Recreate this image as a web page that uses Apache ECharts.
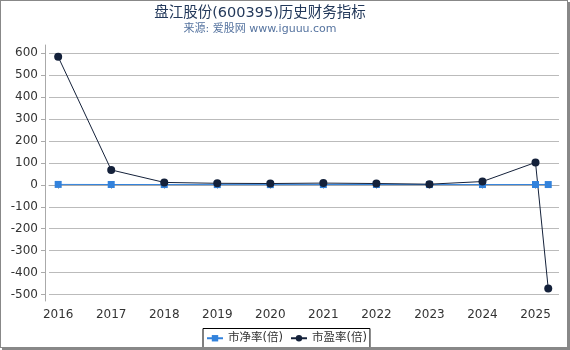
<!DOCTYPE html>
<html>
<head>
<meta charset="utf-8">
<script src="https://cdn.jsdelivr.net/npm/echarts@6/dist/echarts.min.js"></script>
<style>
html,body{margin:0;padding:0;background:#fff;}
#wrap{position:absolute;left:0;top:0;width:566px;height:346px;border:1px solid #888;box-shadow:2px 2px 0 #888;}
#c{width:566px;height:346px;}
</style>
</head>
<body>
<div id="wrap"><div id="c"></div></div>
<script>
var xPos = [2016, 2017, 2018, 2019, 2020, 2021, 2022, 2023, 2024, 2025, 2025.24];
var pbValues = [1.9, 1.5, 1.3, 1.1, 1.0, 1.3, 1.4, 1.2, 1.3, 1.4, 1.3];
var peValues = [584, 68, 11, 7, 6, 8, 6, 3, 15, 102, -473];
var yearTicks = [2016, 2017, 2018, 2019, 2020, 2021, 2022, 2023, 2024, 2025];
var yTicks = [-500, -400, -300, -200, -100, 0, 100, 200, 300, 400, 500, 600];

var pbData = xPos.map(function (x, i) { return [x, pbValues[i]]; });
var peData = xPos.map(function (x, i) { return [x, peValues[i]]; });

var chart = echarts.init(document.getElementById('c'));
var font = 'DejaVu Sans, Noto Sans CJK SC, sans-serif';
chart.setOption({
  animation: false,
  textStyle: { fontFamily: font },
  title: {
    text: '盘江股份(600395)历史财务指标',
    subtext: '来源: 爱股网 www.iguuu.com',
    left: 254,
    textAlign: 'center',
    top: 0,
    itemGap: 3,
    textStyle: { fontSize: 14.5, fontWeight: 'normal', color: '#23395b', fontFamily: font },
    subtextStyle: { fontSize: 11, color: '#55739f', fontFamily: font }
  },
  legend: {
    bottom: -1,
    left: 202,
    borderColor: '#000',
    borderWidth: 1,
    borderRadius: 0,
    padding: [4, 3, 4, 3],
    itemGap: 7,
    itemWidth: 16,
    itemHeight: 8,
    textStyle: { fontSize: 11.5, color: '#333', fontFamily: font },
    data: ['市净率(倍)', '市盈率(倍)']
  },
  grid: { left: 48, right: 8, top: 44, bottom: 46, containLabel: false },
  xAxis: {
    type: 'value',
    min: 2015.827,
    max: 2025.443,
    offset: 4,
    axisLine: { lineStyle: { color: '#aaa' } },
    axisTick: { show: true, length: 4, lineStyle: { color: '#aaa' }, customValues: yearTicks },
    axisLabel: { color: '#333', fontSize: 12, margin: 4, customValues: yearTicks, formatter: function (v) { return String(Math.round(v)); } },
    splitLine: { show: false }
  },
  yAxis: {
    type: 'value',
    min: -530,
    max: 638,
    offset: 4,
    axisLine: { show: true, lineStyle: { color: '#aaa' } },
    axisTick: { show: true, length: 4, lineStyle: { color: '#aaa' }, customValues: yTicks },
    axisLabel: { color: '#333', fontSize: 12, margin: 7, customValues: yTicks },
    splitLine: { show: true, lineStyle: { color: '#bbb' } }
  },
  series: [
    {
      name: '市净率(倍)',
      type: 'line',
      data: pbData,
      symbol: 'rect',
      symbolSize: 7,
      itemStyle: { color: '#3282dc' },
      lineStyle: { color: '#3282dc', width: 1 }
    },
    {
      name: '市盈率(倍)',
      type: 'line',
      data: peData,
      symbol: 'circle',
      symbolSize: 8,
      itemStyle: { color: '#14213a' },
      lineStyle: { color: '#14213a', width: 1 }
    }
  ]
});
</script>
</body>
</html>
